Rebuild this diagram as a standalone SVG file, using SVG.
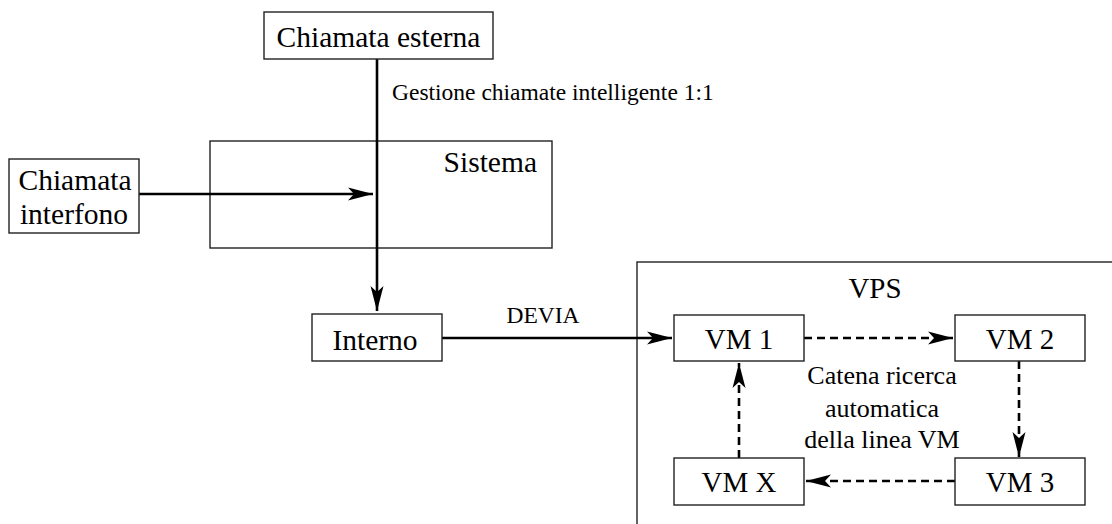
<svg xmlns="http://www.w3.org/2000/svg" width="1112" height="524" viewBox="0 0 1112 524">
<style>
.box{fill:#fff;stroke:#222;stroke-width:1.4}
.frame{fill:none;stroke:#222;stroke-width:1.4}
.t{font-family:"Liberation Serif","Times New Roman",serif;fill:#000}
.xl{font-size:29.5px}
.lg{font-size:29px}
.md{font-size:26px}
.sm{font-size:23.5px}
.c{stroke:#000;stroke-width:2.6;fill:none}
.d{stroke-dasharray:8 5}
</style>
<defs>
<marker id="ah" markerUnits="userSpaceOnUse" viewBox="-27 -8 28 16" refX="0" refY="0" markerWidth="28" markerHeight="16" orient="auto">
<path d="M0,0 L-25,-6.5 L-19,0 L-25,6.5 Z" fill="#000"/>
</marker>
</defs>
<rect x="0" y="0" width="1112" height="524" fill="#fff"/>
<g id="sistema">
<rect class="frame" x="210" y="141" width="342" height="107"/>
<text class="t xl" x="537" y="172" text-anchor="end">Sistema</text>
</g>
<g id="vps">
<rect class="frame" x="637" y="262" width="500" height="300"/>
<text class="t lg" x="875" y="298" text-anchor="middle">VPS</text>
</g>
<g id="connectors">
<line class="c" x1="377" y1="59" x2="377" y2="311" marker-end="url(#ah)"/>
<line class="c" x1="139" y1="194" x2="373" y2="194" marker-end="url(#ah)"/>
<line class="c" x1="442" y1="338" x2="672" y2="338" marker-end="url(#ah)"/>
<line class="c d" x1="804" y1="338" x2="953" y2="338" marker-end="url(#ah)"/>
<line class="c d" x1="1019" y1="361" x2="1019" y2="457" marker-end="url(#ah)"/>
<line class="c d" x1="955" y1="481" x2="806" y2="481" marker-end="url(#ah)"/>
<line class="c d" x1="739" y1="458" x2="739" y2="363" marker-end="url(#ah)"/>
<text class="t sm" x="392" y="100">Gestione chiamate intelligente 1:1</text>
<text class="t sm" x="543" y="323" text-anchor="middle">DEVIA</text>
<text class="t md" x="882" y="384" text-anchor="middle">Catena ricerca</text>
<text class="t md" x="882" y="417" text-anchor="middle">automatica</text>
<text class="t md" x="882" y="448" text-anchor="middle">della linea VM</text>
</g>
<g id="chiamata-esterna">
<rect class="box" x="264" y="12" width="229" height="47"/>
<text class="t xl" x="378.5" y="47" text-anchor="middle">Chiamata esterna</text>
</g>
<g id="chiamata-interfono">
<rect class="box" x="9" y="159" width="130" height="74"/>
<text class="t xl" x="75" y="190" text-anchor="middle">Chiamata</text>
<text class="t xl" x="74" y="224" text-anchor="middle">interfono</text>
</g>
<g id="interno">
<rect class="box" x="312" y="314" width="130" height="47"/>
<text class="t xl" x="375" y="350" text-anchor="middle">Interno</text>
</g>
<g id="vm1">
<rect class="box" x="674" y="315" width="130" height="46"/>
<text class="t lg" x="739" y="349" text-anchor="middle">VM 1</text>
</g>
<g id="vm2">
<rect class="box" x="955" y="315" width="130" height="46"/>
<text class="t lg" x="1020" y="349" text-anchor="middle">VM 2</text>
</g>
<g id="vmx">
<rect class="box" x="674" y="458" width="130" height="47"/>
<text class="t lg" x="739" y="492" text-anchor="middle">VM X</text>
</g>
<g id="vm3">
<rect class="box" x="955" y="458" width="130" height="47"/>
<text class="t lg" x="1020" y="492" text-anchor="middle">VM 3</text>
</g>
</svg>
